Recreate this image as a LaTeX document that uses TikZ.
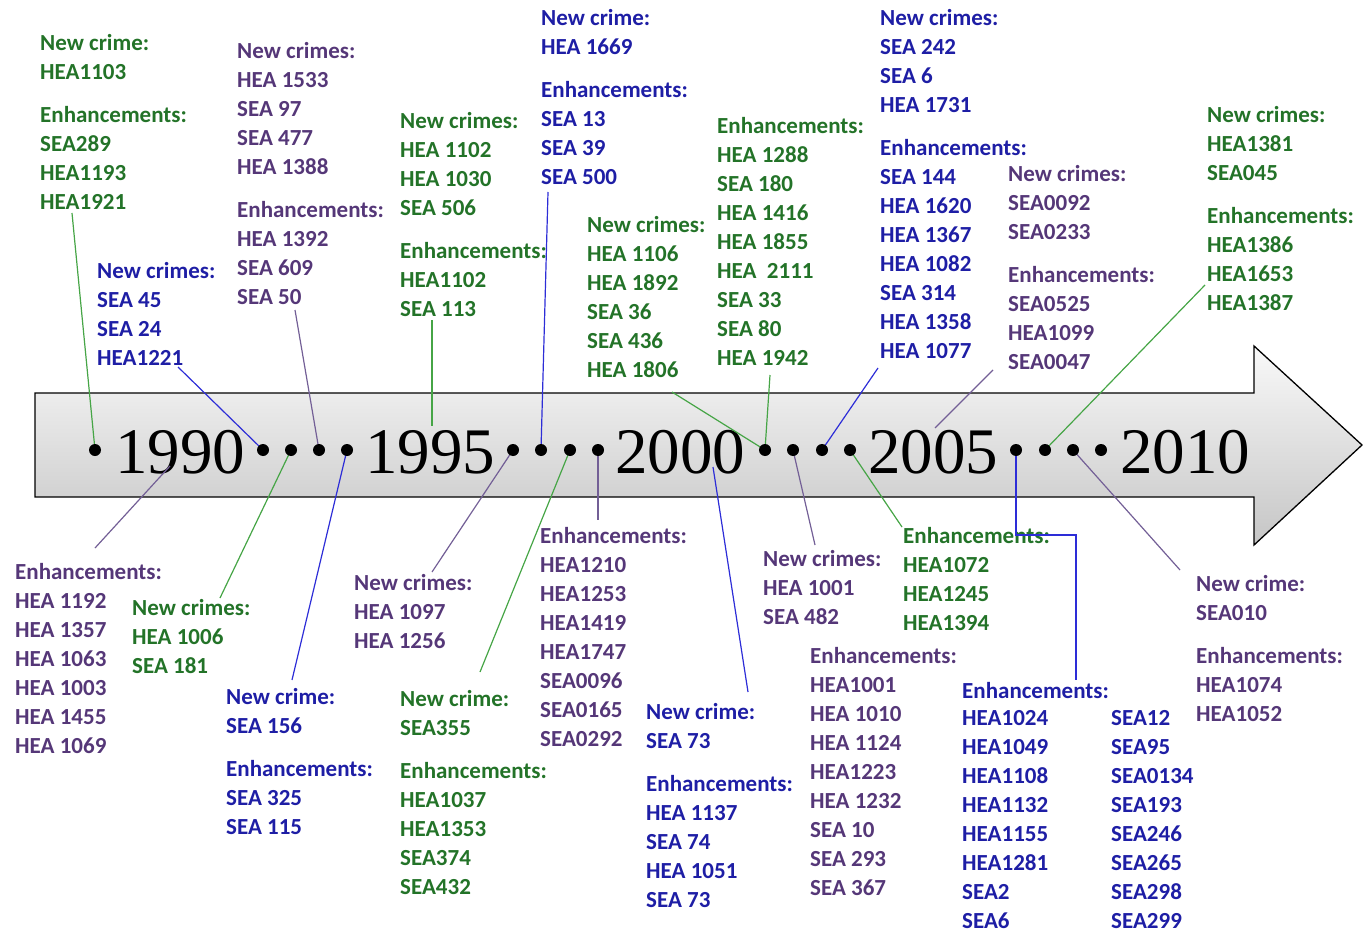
\documentclass[tikz,border=0pt]{standalone}
\usepackage{fontspec}
\setmainfont{Carlito}
\newfontfamily\yearfont{Liberation Serif}
\definecolor{tgreen}{RGB}{35,115,40}
\definecolor{tblue}{RGB}{30,30,165}
\definecolor{tpurple}{RGB}{85,55,120}
\definecolor{lgreen}{RGB}{70,165,70}
\definecolor{lblue}{RGB}{45,45,215}
\definecolor{lpurple}{RGB}{115,95,150}
\begin{document}
\begin{tikzpicture}[x=1pt,y=-1pt,
  lbl/.style={anchor=north west, align=left, inner sep=0pt, font=\fontsize{23}{29}\selectfont\bfseries},
  gtxt/.style={lbl,text=tgreen},
  btxt/.style={lbl,text=tblue},
  ptxt/.style={lbl,text=tpurple},
  year/.style={anchor=base, inner sep=0pt, font=\yearfont\fontsize{65}{65}\selectfont},
  dot/.style={circle, fill=black, inner sep=0pt, minimum size=12pt},
  gline/.style={draw=lgreen, line width=1.2pt},
  bline/.style={draw=lblue, line width=1.2pt},
  pline/.style={draw=lpurple, line width=1.2pt}]
\useasboundingbox (0,0) rectangle (1367,933);

% arrow
\path[draw=black, line width=1.3pt, top color=gray!5, bottom color=gray!45]
  (35,393) -- (1254,393) -- (1254,346) -- (1362,445) -- (1254,545) -- (1254,497) -- (35,497) -- cycle;

% years
\node[year] (y1990) at (180,473) {1990};
\node[year] (y1995) at (430,473) {1995};
\node[year] (y2000) at (680,473) {2000};
\node[year] (y2005) at (933,473) {2005};
\node[year] (y2010) at (1185,473) {2010};

% dot positions
\coordinate (d1) at (95,450);
\coordinate (d2) at (263,450);
\coordinate (d3) at (291,450);
\coordinate (d4) at (319,450);
\coordinate (d5) at (347,450);
\coordinate (d6) at (513,450);
\coordinate (d7) at (541,450);
\coordinate (d8) at (570,450);
\coordinate (d9) at (598,450);
\coordinate (d10) at (765,450);
\coordinate (d11) at (793,450);
\coordinate (d12) at (822,450);
\coordinate (d13) at (850,450);
\coordinate (d14) at (1016,450);
\coordinate (d15) at (1045,450);
\coordinate (d16) at (1073,450);
\coordinate (d17) at (1101,450);

% text blocks above
\node[gtxt] (A) at (40,34) {New crime:\\HEA1103\\[14pt]Enhancements:\\SEA289\\HEA1193\\HEA1921};
\node[ptxt] (B) at (237,42) {New crimes:\\HEA 1533\\SEA 97\\SEA 477\\HEA 1388\\[14pt]Enhancements:\\HEA 1392\\SEA 609\\SEA 50};
\node[btxt] (C) at (97,262) {New crimes:\\SEA 45\\SEA 24\\HEA1221};
\node[gtxt] (D) at (400,112) {New crimes:\\HEA 1102\\HEA 1030\\SEA 506\\[14pt]Enhancements:\\HEA1102\\SEA 113};
\node[btxt] (E) at (541,9) {New crime:\\HEA 1669\\[14pt]Enhancements:\\SEA 13\\SEA 39\\SEA 500};
\node[gtxt] (F) at (587,216) {New crimes:\\HEA 1106\\HEA 1892\\SEA 36\\SEA 436\\HEA 1806};
\node[gtxt] (G) at (717,117) {Enhancements:\\HEA 1288\\SEA 180\\HEA 1416\\HEA 1855\\HEA \ 2111\\SEA 33\\SEA 80\\HEA 1942};
\node[btxt] (H) at (880,9) {New crimes:\\SEA 242\\SEA 6\\HEA 1731\\[14pt]Enhancements:\\SEA 144\\HEA 1620\\HEA 1367\\HEA 1082\\SEA 314\\HEA 1358\\HEA 1077};
\node[ptxt] (I) at (1008,165) {New crimes:\\SEA0092\\SEA0233\\[14pt]Enhancements:\\SEA0525\\HEA1099\\SEA0047};
\node[gtxt] (J) at (1207,106) {New crimes:\\HEA1381\\SEA045\\[14pt]Enhancements:\\HEA1386\\HEA1653\\HEA1387};

% text blocks below
\node[ptxt] (K) at (15,563) {Enhancements:\\HEA 1192\\HEA 1357\\HEA 1063\\HEA 1003\\HEA 1455\\HEA 1069};
\node[gtxt] (L) at (132,599) {New crimes:\\HEA 1006\\SEA 181};
\node[btxt] (M) at (226,688) {New crime:\\SEA 156\\[14pt]Enhancements:\\SEA 325\\SEA 115};
\node[ptxt] (N) at (354,574) {New crimes:\\HEA 1097\\HEA 1256};
\node[gtxt] (O) at (400,690) {New crime:\\SEA355\\[14pt]Enhancements:\\HEA1037\\HEA1353\\SEA374\\SEA432};
\node[ptxt] (P) at (540,527) {Enhancements:\\HEA1210\\HEA1253\\HEA1419\\HEA1747\\SEA0096\\SEA0165\\SEA0292};
\node[btxt] (Q) at (646,703) {New crime:\\SEA 73\\[14pt]Enhancements:\\HEA 1137\\SEA 74\\HEA 1051\\SEA 73};
\node[ptxt] (R) at (763,550) {New crimes:\\HEA 1001\\SEA 482};
\node[ptxt] (S) at (810,647) {Enhancements:\\HEA1001\\HEA 1010\\HEA 1124\\HEA1223\\HEA 1232\\SEA 10\\SEA 293\\SEA 367};
\node[gtxt] (T) at (903,527) {Enhancements:\\HEA1072\\HEA1245\\HEA1394};
\node[btxt] (U) at (962,682) {Enhancements:};
\node[btxt] (U1) at (962,710) {HEA1024\\HEA1049\\HEA1108\\HEA1132\\HEA1155\\HEA1281\\SEA2\\SEA6};
\node[btxt] (U2) at (1111,710) {SEA12\\SEA95\\SEA0134\\SEA193\\SEA246\\SEA265\\SEA298\\SEA299};
\node[ptxt] (V) at (1196,575) {New crime:\\SEA010\\[14pt]Enhancements:\\HEA1074\\HEA1052};

% connector ends at texts
\coordinate (cA) at (72,213);
\coordinate (cC) at (178,367);
\coordinate (cB) at (295,310);
\coordinate (cD) at (432,320);
\coordinate (eD) at (432,426);
\coordinate (cE) at (548,192);
\coordinate (cF) at (672,392);
\coordinate (cG) at (770,375);
\coordinate (cH) at (878,368);
\coordinate (cI) at (993,370);
\coordinate (eI) at (935,428);
\coordinate (cJ) at (1205,285);
\coordinate (eK) at (170,466);
\coordinate (cK) at (95,548);
\coordinate (cL) at (220,598);
\coordinate (cM) at (292,680);
\coordinate (cN) at (432,572);
\coordinate (cO) at (480,672);
\coordinate (cP) at (598,520);
\coordinate (eQ) at (713,467);
\coordinate (cQ) at (748,692);
\coordinate (cR) at (815,545);
\coordinate (cT) at (902,527);
\coordinate (cU) at (1076,680);
\coordinate (cV) at (1180,570);

% connectors above
\draw[gline] (cA) -- (d1);
\draw[bline] (cC) -- (d2);
\draw[pline] (cB) -- (d4);
\draw[gline] (cD) -- (eD);
\draw[bline] (cE) -- (d7);
\draw[gline] (cF) -- (d10);
\draw[gline] (cG) -- (d10);
\draw[bline] (cH) -- (d12);
\draw[pline] (cI) -- (eI);
\draw[gline] (cJ) -- (d15);

% connectors below
\draw[pline] (eK) -- (cK);
\draw[gline] (d3) -- (cL);
\draw[bline] (d5) -- (cM);
\draw[pline] (d6) -- (cN);
\draw[gline] (d8) -- (cO);
\draw[pline] (d9) -- (cP);
\draw[bline] (eQ) -- (cQ);
\draw[pline] (d11) -- (cR);
\draw[gline] (d13) -- (cT);
\draw[bline] (d14) -- (1016,535) -- (1076,535) -- (cU);
\draw[pline] (d16) -- (cV);

% dots
\foreach \i in {1,...,17} {\node[dot] (n\i) at (d\i) {};}
\end{tikzpicture}
\end{document}
